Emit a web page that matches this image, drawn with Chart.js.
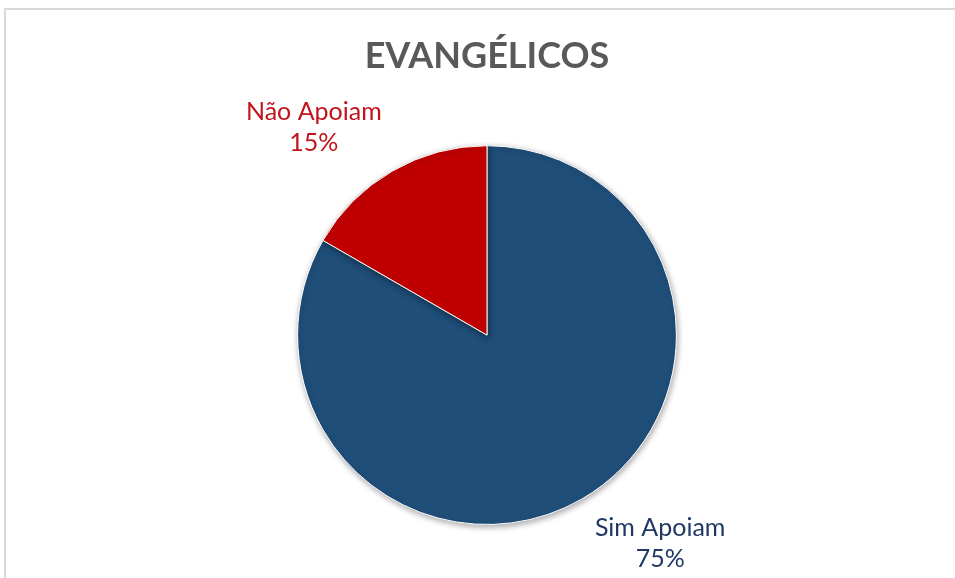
<!DOCTYPE html>
<html>
<head>
<meta charset="utf-8">
<script src="https://cdn.jsdelivr.net/npm/chart.js@4/dist/chart.umd.min.js"></script>
<style>
  html, body { margin: 0; padding: 0; background: #fff; overflow: hidden; }
  #frame {
    position: absolute; left: 4px; top: 8px; width: 1000px; height: 700px;
    border-left: 2px solid #d9d9d9; border-top: 2px solid #d9d9d9;
  }
  #wrap { position: absolute; left: 0; top: 0; width: 955px; height: 578px; }
</style>
</head>
<body>
<div id="frame"></div>
<div id="wrap"><canvas id="pieChart"></canvas></div>
<script>
// pie data
const categories = ['Sim Apoiam', 'Não Apoiam'];
const percentLabels = ['75%', '15%'];
const values = [75, 15];
const sliceColors = ['#1f4e79', '#c00000'];
const labelColors = ['#203864', '#c0141c'];

// puts the category / percent text outside each slice
const outsideLabels = {
    id: 'outsideLabels',
    afterDatasetsDraw(chart) {
        const ctx = chart.ctx;
        const meta = chart.getDatasetMeta(0);
        ctx.save();
        ctx.font = '25px Lato';
        ctx.textAlign = 'center';
        ctx.textBaseline = 'middle';
        meta.data.forEach((arc, i) => {
            const mid = (arc.startAngle + arc.endAngle) / 2;
            // rotate a little counter-clockwise, off the slice centre line
            const a = mid - 0.17;
            const dist = arc.outerRadius * 1.43;
            const x = arc.x + Math.cos(a) * dist;
            const y = arc.y + Math.sin(a) * dist;
            ctx.fillStyle = labelColors[i];
            ctx.fillText(categories[i], x, y - 15);
            ctx.fillText(percentLabels[i], x, y + 16);
        });
        ctx.restore();
    }
};

// soft drop shadow under the pie
const pieShadow = {
    id: 'pieShadow',
    beforeDatasetsDraw(chart) {
        const ctx = chart.ctx;
        ctx.save();
        ctx.shadowColor = 'rgba(0, 0, 0, 0.35)';
        ctx.shadowBlur = 6;
        ctx.shadowOffsetX = 1;
        ctx.shadowOffsetY = 2;
    },
    afterDatasetsDraw(chart) {
        chart.ctx.restore();
    }
};

new Chart(document.getElementById('pieChart'), {
    type: 'pie',
    data: {
        labels: categories,
        datasets: [{
            data: values,
            backgroundColor: sliceColors,
            borderColor: '#ffffff',
            borderWidth: 1
        }]
    },
    options: {
        responsive: true,
        maintainAspectRatio: false,
        animation: false,
        layout: {
            padding: { top: 0, bottom: 53, left: 19, right: 0 }
        },
        plugins: {
            legend: { display: false },
            tooltip: { enabled: false },
            title: {
                display: true,
                text: 'EVANGÉLICOS',
                color: '#595959',
                font: { family: 'Lato', size: 36, weight: 'bold', lineHeight: 1.2 },
                padding: { top: 35, bottom: 67 }
            }
        }
    },
    plugins: [pieShadow, outsideLabels]
});
</script>
</body>
</html>
